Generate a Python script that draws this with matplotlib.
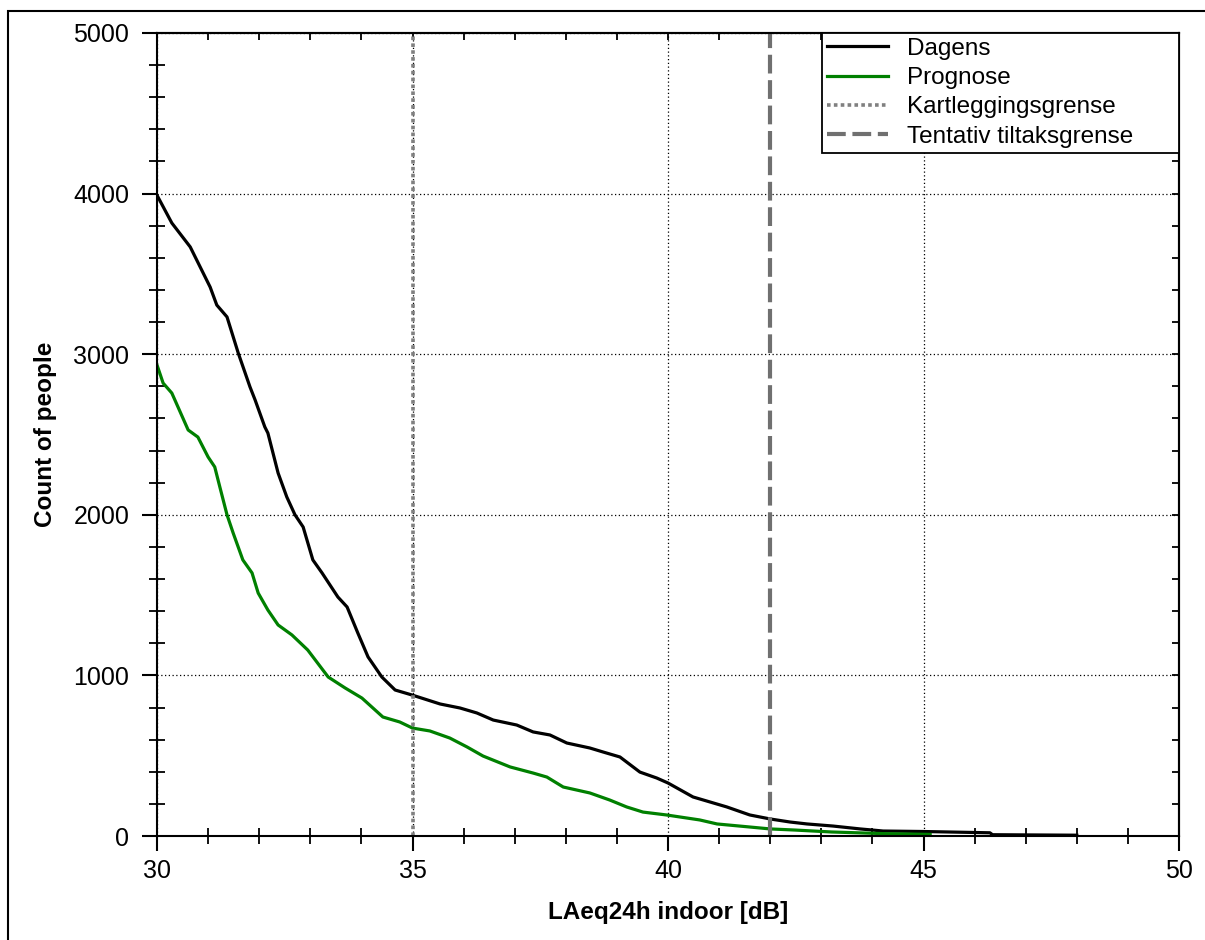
import numpy as np
import matplotlib
matplotlib.use('Agg')
import matplotlib.pyplot as plt
from matplotlib.patches import Rectangle
from matplotlib.ticker import MultipleLocator

plt.rcParams['font.family'] = ['Liberation Sans', 'DejaVu Sans']

# cumulative count of people above each level
dagens_x = [30.0, 30.29, 30.65, 31.04, 31.17, 31.37, 31.59, 31.82, 31.92, 32.11,
            32.17, 32.37, 32.54, 32.70, 32.86, 33.05, 33.23, 33.54, 33.72, 33.93,
            34.13, 34.40, 34.66, 34.99, 35.54, 35.93, 36.26, 36.58, 37.04, 37.36,
            37.69, 38.02, 38.47, 38.73, 39.06, 39.45, 39.78, 40.0, 40.49, 40.82,
            41.15, 41.60, 42.0, 42.39, 42.72, 43.23, 43.76, 44.21, 44.99, 46.3,
            46.35, 48.0]
dagens_y = [3990, 3817, 3668, 3418, 3306, 3232, 3007, 2796, 2715, 2547,
            2509, 2260, 2111, 2000, 1924, 1719, 1638, 1488, 1426, 1264,
            1115, 990, 909, 878, 822, 797, 766, 722, 691, 648,
            629, 579, 548, 523, 492, 398, 361, 330, 243, 212,
            181, 131, 106, 87, 75, 62, 44, 31, 28, 20,
            8, 5]

prognose_x = [30.0, 30.12, 30.29, 30.35, 30.61, 30.80, 31.0, 31.13, 31.23, 31.37,
              31.49, 31.68, 31.86, 31.98, 32.17, 32.37, 32.64, 32.95, 33.35, 33.68,
              34.01, 34.42, 34.75, 35.0, 35.34, 35.73, 36.07, 36.38, 36.91, 37.36,
              37.63, 37.95, 38.47, 38.86, 39.19, 39.51, 39.97, 40.62, 40.96, 41.6,
              42.0, 42.49, 43.2, 44.2, 45.13]
prognose_y = [2933, 2820, 2758, 2715, 2528, 2484, 2360, 2298, 2173, 2000,
              1887, 1719, 1638, 1513, 1407, 1314, 1252, 1158, 990, 922,
              859, 741, 710, 672, 654, 610, 554, 498, 430, 392,
              367, 305, 268, 224, 181, 149, 131, 100, 75, 56,
              44, 37, 25, 15, 10]

kartlegging = 35
tiltak = 42

fig = plt.figure(figsize=(12.05, 9.4), dpi=100)
ax = fig.add_axes([157/1205, 1 - 836/940, 1022/1205, 803/940])

# frame round the whole picture
fig.patches.append(Rectangle((8/1205, -0.1), 1.2, 1 - 11/940 + 0.1,
                             transform=fig.transFigure, fill=False,
                             edgecolor='black', linewidth=1.5))

ax.grid(True, which='major', color='black', linestyle=(0, (1, 2)), linewidth=0.9)
ax.set_axisbelow(True)

ax.plot(dagens_x, dagens_y, color='black', linewidth=2.3, label='Dagens')
ax.plot(prognose_x, prognose_y, color='#008000', linewidth=2.3, label='Prognose')
ax.axvline(kartlegging, color='#808080', linestyle=(0, (1, 0.9)), linewidth=2.6,
           label='Kartleggingsgrense')
ax.axvline(tiltak, color='#707070', linestyle=(0, (4.5, 1.6)), linewidth=3,
           label='Tentativ tiltaksgrense')

ax.set_xlim(30, 50)
ax.set_ylim(0, 5000)
ax.xaxis.set_major_locator(MultipleLocator(5))
ax.xaxis.set_minor_locator(MultipleLocator(1))
ax.yaxis.set_major_locator(MultipleLocator(1000))
ax.yaxis.set_minor_locator(MultipleLocator(200))

ax.tick_params(which='major', direction='out', length=11, width=1.5,
               labelsize=18)
ax.tick_params(which='minor', direction='inout', length=11, width=1.3)
ax.tick_params(axis='x', which='major', pad=5.5)
ax.tick_params(axis='y', which='major', pad=9)

# small inward ticks on the top and right edges
top = ax.secondary_xaxis('top')
top.xaxis.set_major_locator(MultipleLocator(1))
top.tick_params(direction='in', length=5, width=1.3, labeltop=False)
right = ax.secondary_yaxis('right')
right.yaxis.set_major_locator(MultipleLocator(200))
right.tick_params(direction='in', length=5, width=1.3, labelright=False)
for sec in (top, right):
    for sp in sec.spines.values():
        sp.set_linewidth(1.5)

for sp in ax.spines.values():
    sp.set_linewidth(1.5)

ax.set_xlabel('LAeq24h indoor [dB]', fontsize=17.5, fontweight='bold', labelpad=13)
ax.set_ylabel('Count of people', fontsize=17.5, fontweight='bold', labelpad=12)

leg = ax.legend(loc='upper left', bbox_to_anchor=(0.651, 0.0, 0.349, 1.0),
                mode='expand', borderaxespad=0, fontsize=17.5, handlelength=2.5,
                handletextpad=0.8, labelspacing=0.3, borderpad=0.2,
                fancybox=False, framealpha=1, edgecolor='black')
leg.get_frame().set_linewidth(1.3)
leg.set_zorder(5)

plt.savefig('out.png', dpi=100)
